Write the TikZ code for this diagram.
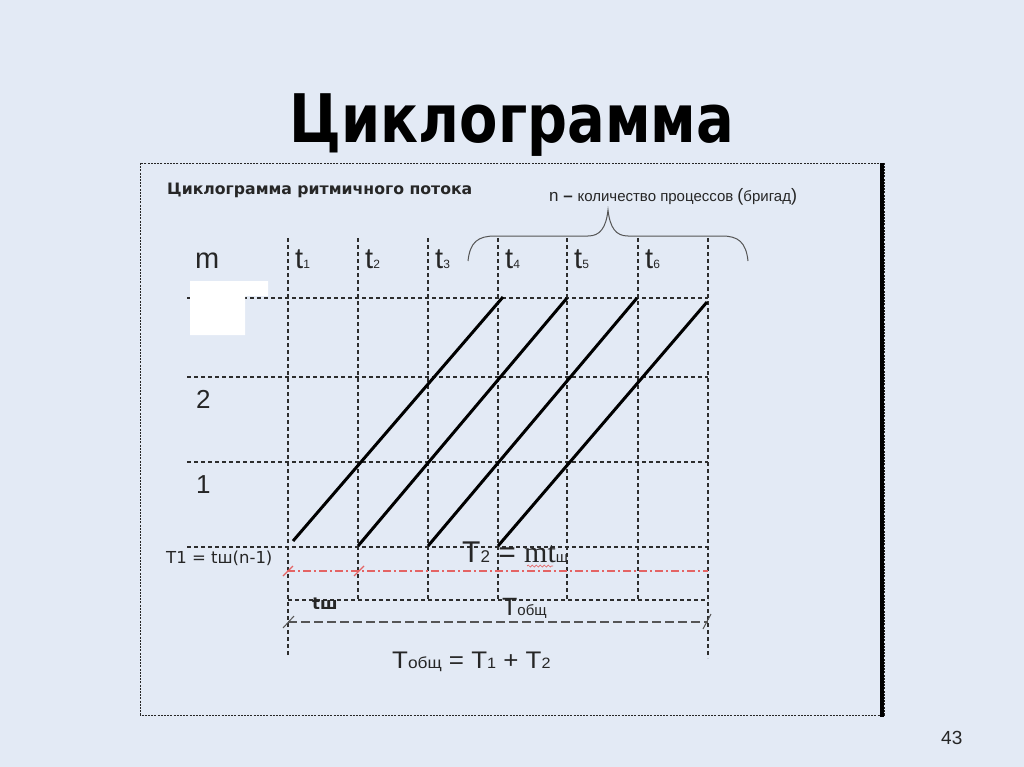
\documentclass[tikz,border=0pt]{standalone}
\usepackage{fontspec}
\setmainfont{Liberation Sans}
\newfontfamily\dejavu{DejaVu Sans}
\newfontfamily\serifmt{Liberation Serif}
\usetikzlibrary{decorations.pathmorphing}
\definecolor{slidebg}{RGB}{227,234,245}
\definecolor{gridgray}{RGB}{45,45,45}
\definecolor{dimred}{RGB}{228,100,100}
\definecolor{bracegray}{RGB}{85,85,85}
\newcommand\fsz[1]{\fontsize{#1}{#1}\selectfont}
\tikzset{
  gridline/.style={gridgray, line width=1.1pt, dash pattern=on 4pt off 3pt},
  flowline/.style={black, line width=3pt},
  dimline/.style={bracegray, line width=1.3pt, dash pattern=on 9pt off 4pt},
  redline/.style={dimred, line width=1.2pt, dash pattern=on 8pt off 3pt on 2pt off 3pt},
  lbl/.style={anchor=base west, inner sep=0pt, text=black!85},
}
\begin{document}
\begin{tikzpicture}[x=1pt, y=-1pt]
		\useasboundingbox (0,0) rectangle (1024,767);
		\fill[slidebg] (0,0) rectangle (1024,767);
		
		% frame
		\draw[black!85, line width=0.9pt, dash pattern=on 2pt off 1.2pt] (140,163) rectangle (884,715);
		\draw[black, line width=4pt] (882,163) -- (882,717);
		
		\node[anchor=base, inner sep=0pt] (title) at (512,143) {\scalebox{0.86}[1.03]{\dejavu\bfseries\fsz{65}Циклограмма}};
		\node[lbl] (sub) at (167,195) {\dejavu\bfseries\fsz{15.7}Циклограмма ритмичного потока};
		
		% grid
		\draw[gridline] (288,238) -- (288,657);
		\draw[gridline] (358,238) -- (358,600);
		\draw[gridline] (428,238) -- (428,600);
		\draw[gridline] (498,238) -- (498,600);
		\draw[gridline] (567,238) -- (567,600);
		\draw[gridline] (638,238) -- (638,600);
		\draw[gridline] (708,238) -- (708,658);
		\draw[gridline] (187,298) -- (708,298);
		\draw[gridline] (187,377) -- (708,377);
		\draw[gridline] (187,462) -- (708,462);
		\draw[gridline] (187,547) -- (708,547);
		\draw[gridline] (288,600) -- (708,600);
		
		\fill[white] (190,281) -- (268,281) -- (268,296) -- (245,296) -- (245,335) -- (190,335) -- cycle;
		
		% flow lines
		\draw[flowline] (293,541) -- (503,297);
		\draw[flowline] (358,546) -- (567,298);
		\draw[flowline] (428,546) -- (637,298);
		\draw[flowline] (498,546) -- (707,302);
		
		% time axes
		\draw[redline] (287,571) -- (708,571);
		\draw[dimred, line width=1.2pt] (283,576) -- (293,566);
		\draw[dimred, line width=1.2pt] (354,576) -- (364,566);
		\draw[dimline] (288,622) -- (708,622);
		\draw[bracegray, line width=1pt] (283,628) -- (294,616);
		\draw[bracegray, line width=1pt] (703,629) -- (711,614);
		
		% brace
		\draw[bracegray, line width=1pt] (468,261) .. controls (470,242) and (478,236) .. (495,236) -- (588,236)
		  .. controls (600,236) and (606,228) .. (608,210) .. controls (610,228) and (616,236) .. (628,236)
		  -- (722,236) .. controls (738,236) and (746,242) .. (748,261);
		\node[lbl] (nlabel) at (549,202) {\fsz{17}n \textbf{–} \fsz{15}количество процессов \fsz{18}(\fsz{15}бригад\fsz{18})};
		
		\node[lbl] (mlabel) at (195,268) {\fsz{29}m};
		\node[lbl] (t1) at (295,268) {\fsz{29}t\fsz{12}1};
		\node[lbl] (t2) at (365,268) {\fsz{29}t\fsz{12}2};
		\node[lbl] (t3) at (435,268) {\fsz{29}t\fsz{12}3};
		\node[lbl] (t4) at (505,268) {\fsz{29}t\fsz{12}4};
		\node[lbl] (t5) at (574,268) {\fsz{29}t\fsz{12}5};
		\node[lbl] (t6) at (645,268) {\fsz{29}t\fsz{12}6};
		\node[lbl] (row2) at (196,408) {\fsz{26}2};
		\node[lbl] (row1) at (196,493) {\fsz{26}1};
		
		\node[lbl] (T1lbl) at (166,563) {\dejavu\fsz{16.5}T1 = tш(n-1)};
		\node[lbl] (T2lbl) at (462,562) {\fsz{30}T\fsz{17}2\fsz{30} = {\serifmt mt}\fsz{15}ш};
		\draw[dimred, line width=0.7pt, decorate, decoration={snake, amplitude=1pt, segment length=4pt}] (527,566) -- (553,566);
		\node[lbl] (tsh) at (312,609) {\dejavu\bfseries\fsz{16.5}tш};
		\node[lbl] (Tob) at (502,615) {\fsz{25}Т\fsz{15}общ};
		\node[lbl] (Tsum) at (392,668) {\scalebox{1.08}[1]{\fsz{24}Т\fsz{16}общ\fsz{24} = Т\fsz{15}1\fsz{24} + Т\fsz{15}2}};
		
		\node[lbl] (pnum) at (941,744) {\fsz{19}43};
\end{tikzpicture}
\end{document}
